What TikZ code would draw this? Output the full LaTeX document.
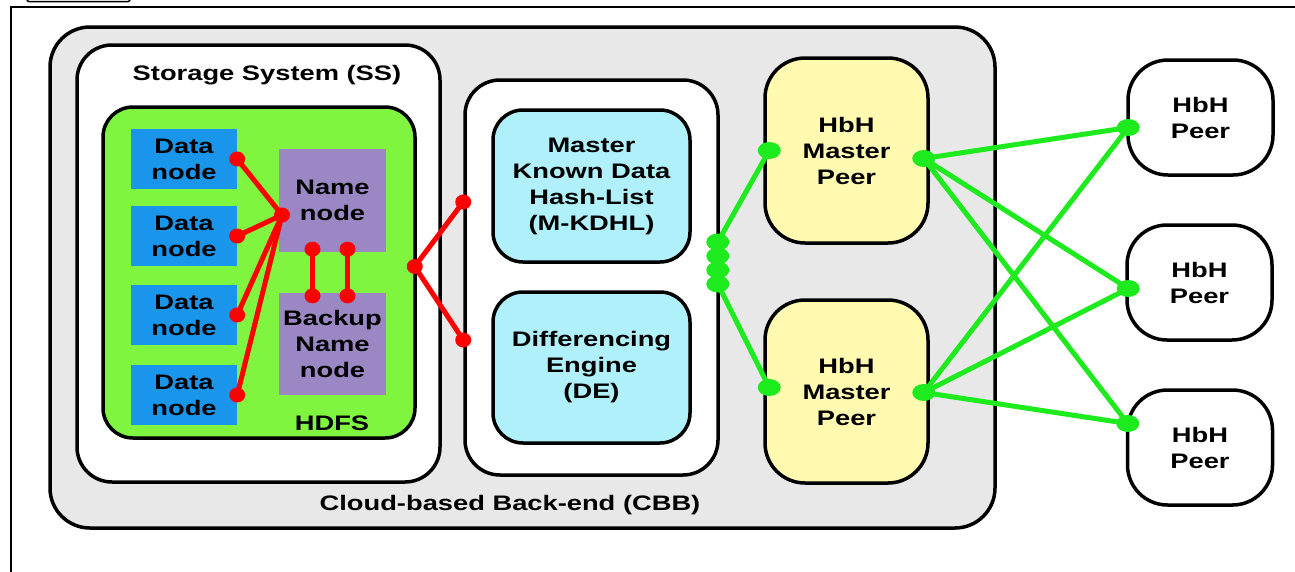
\documentclass[tikz,border=0pt]{standalone}
\usepackage{fontspec}
\setmainfont[FakeStretch=1.3]{Liberation Sans}
\usetikzlibrary{calc}

\definecolor{cbbgray}{RGB}{232,232,232}
\definecolor{hdfsgreen}{RGB}{128,245,64}
\definecolor{datablue}{RGB}{25,150,235}
\definecolor{namepurple}{RGB}{155,135,195}
\definecolor{dhcyan}{RGB}{175,240,250}
\definecolor{peeryellow}{RGB}{255,250,175}
\definecolor{linkred}{RGB}{255,0,0}
\definecolor{linkgreen}{RGB}{30,235,30}

\begin{document}
\begin{tikzpicture}[x=1pt,y=-1pt,
  every node/.style={font=\fontsize{21}{26}\selectfont\bfseries,align=center},
  box/.style={draw,line width=3.5pt,rounded corners=#1},
  box/.default=35pt,
  hnode/.style={fill=#1,inner sep=0pt},
  redlink/.style={linkred,line width=5pt},
  greenlink/.style={linkgreen,line width=5pt},
  reddot/.style={linkred,x radius=8pt,y radius=7.5pt},
  greendot/.style={linkgreen,x radius=11.5pt,y radius=8.5pt}]
  \useasboundingbox (0,0) rectangle (1295,571);
  \clip (0,0) rectangle (1295,571);

  % page frame
  \draw[line width=1.5pt] (11,590) -- (11,7) -- (1310,7);
  \draw[line width=1.5pt,rounded corners=2pt] (27,-10) rectangle (130,1.5);

  % containers
  \node[box=40pt,fill=cbbgray,minimum width=945,minimum height=501] (cbb) at (522.5,277.5) {};
  \node[box,fill=white,minimum width=363,minimum height=437] (ss) at (258.5,263.5) {};
  \node[box=30pt,fill=hdfsgreen,minimum width=312,minimum height=331] (hdfs) at (259,272.5) {};
  \node[box,fill=white,minimum width=253,minimum height=395] (mid) at (591.5,277.5) {};

  \node (sslabel) at (267,75) {Storage System (SS)};
  \node (hdfslabel) at (332,423) {HDFS};
  \node (cbblabel) at (510,505) {Cloud-based Back-end (CBB)};

  % HDFS nodes
  \foreach \i/\y in {1/159,2/236,3/315,4/395}
    \node[hnode=datablue,minimum width=106,minimum height=60] (d\i) at (184,\y) {Data\\node};
  \node[hnode=namepurple,minimum width=107,minimum height=103] (name) at (332.5,200.5) {Name\\node};
  \node[hnode=namepurple,minimum width=107,minimum height=102] (backup) at (332.5,344) {Backup\\Name\\node};

  % back-end services
  \node[box=30pt,fill=dhcyan,minimum width=197,minimum height=152] (kdhl) at (591.5,186) {Master\\Known Data\\Hash-List\\(M-KDHL)};
  \node[box=30pt,fill=dhcyan,minimum width=197,minimum height=151] (de) at (591.5,367.5) {Differencing\\Engine\\(DE)};

  \node[box=40pt,fill=peeryellow,minimum width=163,minimum height=185] (mp1) at (846.5,150.5) {HbH\\Master\\Peer};
  \node[box=40pt,fill=peeryellow,minimum width=163,minimum height=183] (mp2) at (846.5,391.5) {HbH\\Master\\Peer};

  \node[box=40pt,fill=white,minimum width=145,minimum height=115] (p1) at (1200.5,117.5) {HbH\\Peer};
  \node[box=40pt,fill=white,minimum width=145,minimum height=115] (p2) at (1199.5,282.5) {HbH\\Peer};
  \node[box=40pt,fill=white,minimum width=145,minimum height=115] (p3) at (1200,447.5) {HbH\\Peer};

  % red links
  \coordinate (nhub) at (282,215);
  \foreach \i in {1,...,4} {
    \draw[redlink] (nhub) -- (d\i.east);
    \fill[reddot] (d\i.east) circle;
  }
  \fill[reddot] (nhub) circle;
  \foreach \dx in {-20,15} {
    \draw[redlink] ($(name.south)+(\dx,0)$) -- ($(backup.north)+(\dx,0)$);
    \fill[reddot] ($(name.south)+(\dx,-3)$) circle;
    \fill[reddot] ($(backup.north)+(\dx,3)$) circle;
  }
  \coordinate (hhub) at ($(hdfs.east)+(-2,-6)$);
  \coordinate (mtop) at (mid.west |- 0,202);
  \coordinate (mbot) at (mid.west |- 0,340);
  \draw[redlink] (mtop) -- (hhub) -- (mbot);
  \foreach \c in {hhub,mtop,mbot}
    \fill[reddot] (\c) circle;

  % green links
  \foreach \y in {242,256,270,284}
    \fill[greendot] ($(mid.east |- 0,\y)+(-2,0)$) circle;
  \draw[greenlink] ($(mid.east |- 0,242)+(-2,0)$) -- ($(mp1.west)+(6,0)$);
  \draw[greenlink] ($(mid.east |- 0,284)+(-2,0)$) -- ($(mp2.west)+(6,-4)$);
  \fill[greendot] ($(mp1.west)+(6,0)$) circle;
  \fill[greendot] ($(mp2.west)+(6,-4)$) circle;

  \coordinate (mr1) at ($(mp1.east)+(-6,8)$);
  \coordinate (mr2) at ($(mp2.east)+(-6,1)$);
  \coordinate (pl1) at ($(p1.west)+(2,10)$);
  \coordinate (pl2) at ($(p2.west)+(3,6)$);
  \coordinate (pl3) at ($(p3.west)+(2,-24)$);
  \foreach \m in {mr1,mr2}
    \foreach \p in {pl1,pl2,pl3}
      \draw[greenlink] (\m) -- (\p);
  \foreach \c in {mr1,mr2,pl1,pl2,pl3}
    \fill[greendot] (\c) circle;
\end{tikzpicture}
\end{document}
